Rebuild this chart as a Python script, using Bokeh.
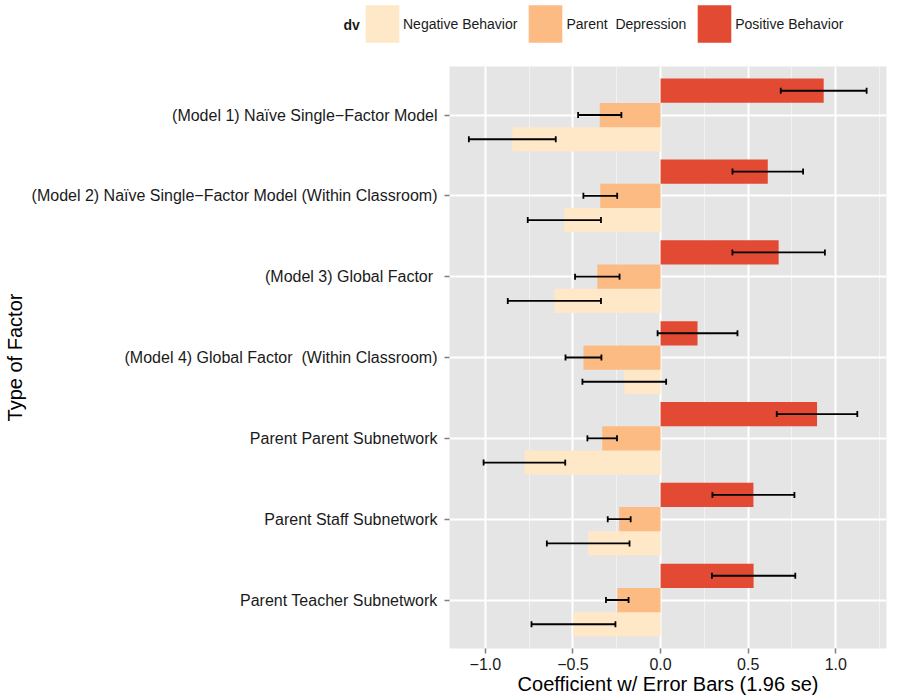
from bokeh.plotting import figure
from bokeh.layouts import column
from bokeh.models import (FactorRange, Range1d, Whisker, TeeHead, ColumnDataSource,
                          Legend, LegendItem, Label, FixedTicker)
from bokeh.transform import dodge
from bokeh.embed import file_html
from bokeh.resources import INLINE

# ---------------- data ----------------
categories = [
    "(Model 1) Naïve Single\u2212Factor Model",
    "(Model 2) Naïve Single\u2212Factor Model (Within Classroom)",
    "(Model 3) Global Factor ",
    "(Model 4) Global Factor \u00a0(Within Classroom)",
    "Parent Parent Subnetwork",
    "Parent Staff Subnetwork",
    "Parent Teacher Subnetwork",
]
legend_title = "dv"
dv_levels = ["Negative Behavior", "Parent \u00a0Depression", "Positive Behavior"]

est_negative = [-0.846, -0.549, -0.606, -0.207, -0.777, -0.413, -0.497]
se_negative = [0.1265, 0.1066, 0.1357, 0.1219, 0.1189, 0.1204, 0.1222]
est_depression = [-0.347, -0.344, -0.361, -0.440, -0.333, -0.236, -0.247]
se_depression = [0.0630, 0.0492, 0.0648, 0.0523, 0.0431, 0.0334, 0.0329]
est_positive = [0.931, 0.612, 0.674, 0.211, 0.893, 0.530, 0.531]
se_positive = [0.1250, 0.1028, 0.1347, 0.1163, 0.1173, 0.1194, 0.1214]

x_ticks = [-1.0, -0.5, 0.0, 0.5, 1.0]
x_tick_labels = ["\u22121.0", "\u22120.5", "0.0", "0.5", "1.0"]
x_minor_ticks = [-0.75, -0.25, 0.25, 0.75, 1.25]

colors = ["#FEE8C8", "#FDBB84", "#E34A33"]
FONT = "Liberation Sans"
TEXT_COL = "#1A1A1A"

# ---------------- main figure ----------------
p = figure(
    y_range=FactorRange(factors=list(reversed(categories)), range_padding=0.1,
                        range_padding_units="absolute"),
    x_range=Range1d(-1.2045, 1.2895),
    width=920, height=650,
    output_backend="svg", toolbar_location=None,
    min_border_left=448, min_border_right=34, min_border_top=18, min_border_bottom=50,
)
p.frame_align = False
p.background_fill_color = "#E5E5E5"
p.border_fill_color = "white"
p.outline_line_color = None

series = [
    (est_negative, se_negative, colors[0], -0.3),
    (est_depression, se_depression, colors[1], 0.0),
    (est_positive, se_positive, colors[2], 0.3),
]

sources = []
for est, se, col, off in series:
    src = ColumnDataSource(dict(
        cat=categories,
        est=est,
        lower=[e - 1.96 * s for e, s in zip(est, se)],
        upper=[e + 1.96 * s for e, s in zip(est, se)],
    ))
    p.hbar(y=dodge("cat", off, range=p.y_range), left=0, right="est", height=0.3,
           fill_color=col, line_color=None, source=src)
    sources.append((src, off))

for src, off in sources:
    w = Whisker(base=dodge("cat", off, range=p.y_range), lower="lower", upper="upper",
                dimension="width", source=src, line_color="black", line_width=1.8,
                upper_head=TeeHead(size=6, line_color="black", line_width=1.8),
                lower_head=TeeHead(size=6, line_color="black", line_width=1.8),
                level="overlay")
    p.add_layout(w)

# axes & grid
p.xaxis.ticker = FixedTicker(ticks=x_ticks, minor_ticks=x_minor_ticks)
p.xaxis.major_label_overrides = {t: l for t, l in zip(x_ticks, x_tick_labels)}
for ax in (p.xaxis, p.yaxis):
    ax.axis_line_color = None
    ax.major_tick_line_color = "#7F7F7F"
    ax.major_tick_line_width = 1.5
    ax.major_tick_in = 0
    ax.major_tick_out = 5
    ax.minor_tick_line_color = None
    ax.major_label_text_font = FONT
    ax.major_label_text_font_size = "16px"
    ax.major_label_text_color = TEXT_COL
    ax.axis_label_text_font = FONT
    ax.axis_label_text_font_size = "20px"
    ax.axis_label_text_font_style = "normal"
    ax.axis_label_text_color = "black"
p.xaxis.major_label_standoff = 4
p.yaxis.major_label_standoff = 7
p.xaxis.axis_label = "Coefficient w/ Error Bars (1.96 se)"
p.xaxis.axis_label_standoff = 0
p.yaxis.axis_label = "Type of Factor"
p.yaxis.axis_label_standoff = 3

p.xgrid.grid_line_color = "white"
p.xgrid.grid_line_width = 2
p.xgrid.minor_grid_line_color = "#F2F2F2"
p.xgrid.minor_grid_line_width = 1
p.ygrid.grid_line_color = "white"
p.ygrid.grid_line_width = 2

# ---------------- legend strip ----------------
top = figure(width=920, height=48, x_range=Range1d(0, 920), y_range=Range1d(0, 48),
             output_backend="svg", toolbar_location=None,
             x_axis_type=None, y_axis_type=None,
             min_border_left=0, min_border_right=0, min_border_top=0, min_border_bottom=0)
top.frame_align = False
top.outline_line_color = None
top.xgrid.visible = False
top.ygrid.visible = False
# key glyphs: one bar per level, parked outside the strip's visible range
offscreen = ColumnDataSource(dict(y=[-100], right=[1]))
legend_renderers = [top.hbar(y="y", left=0, right="right", height=1, fill_color=c,
                             line_color=None, source=offscreen) for c in colors]
legend = Legend(
    items=[LegendItem(label=n, renderers=[r]) for n, r in zip(dv_levels, legend_renderers)],
    orientation="horizontal", location=(361, 1),
    glyph_width=42, glyph_height=47, label_standoff=0, spacing=7,
    padding=0, margin=0, border_line_color=None, background_fill_alpha=0,
    label_text_font=FONT, label_text_font_size="14px", label_text_color=TEXT_COL,
    label_height=47,
)
top.add_layout(legend)
top.add_layout(Label(x=343, y=24, x_units="screen", y_units="screen", text=legend_title,
                     text_align="left", text_baseline="middle", text_font=FONT,
                     text_font_size="14px", text_font_style="bold", text_color=TEXT_COL))

layout = column(top, p, spacing=0)
open("out.html", "w").write(file_html(layout, INLINE))
